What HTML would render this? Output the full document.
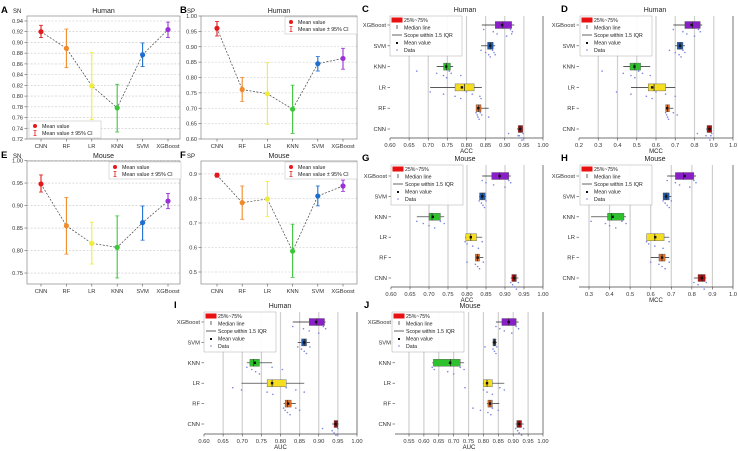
<!DOCTYPE html>
<html><head><meta charset="utf-8"><style>
body{margin:0;background:#fff}
svg{display:block;font-family:"Liberation Sans",Arial,sans-serif}
</style></head><body>
<svg id="fig" width="738" height="451" viewBox="0 0 738 451" xmlns="http://www.w3.org/2000/svg"></svg>
<script>
// ===== data =====
const models = ["CNN","RF","LR","KNN","SVM","XGBoost"];
const colors = ["#e31a1c","#f08a2a","#f0ec3a","#3cc63c","#1c6ed0","#9a30d6"];
const boxColors = ["#b01010","#e0702a","#f5dd20","#2ec12e","#1f5aa8","#8a1fc9"];
// line panels: mean, low CI, high CI (order = models)
const snHumanMean=[0.920,0.889,0.819,0.778,0.877,0.924];
const snHumanLo=[0.909,0.853,0.756,0.733,0.855,0.909];
const snHumanHi=[0.932,0.925,0.881,0.822,0.899,0.938];
const spHumanMean=[0.960,0.761,0.747,0.697,0.845,0.862];
const spHumanLo=[0.935,0.722,0.648,0.618,0.821,0.827];
const spHumanHi=[0.982,0.800,0.848,0.775,0.868,0.895];
const snMouseMean=[0.948,0.855,0.816,0.807,0.862,0.910];
const snMouseLo=[0.930,0.792,0.770,0.739,0.823,0.893];
const snMouseHi=[0.968,0.918,0.863,0.877,0.899,0.927];
const spMouseMean=[0.895,0.783,0.798,0.585,0.810,0.851];
const spMouseLo=[0.887,0.715,0.727,0.478,0.770,0.829];
const spMouseHi=[0.903,0.851,0.869,0.695,0.851,0.875];
// box panels (order = models): q1, median, q3, whisker lo, whisker hi, mean
const accHumanQ1=[0.935,0.825,0.770,0.740,0.855,0.875];
const accHumanMed=[0.940,0.832,0.795,0.748,0.862,0.895];
const accHumanQ3=[0.947,0.838,0.820,0.758,0.870,0.918];
const accHumanWLo=[0.932,0.825,0.705,0.722,0.838,0.840];
const accHumanWHi=[0.948,0.858,0.840,0.765,0.875,0.925];
const accHumanMean=[0.940,0.831,0.788,0.747,0.862,0.893];
const accHumanDots=[[0.910,0.935,0.940,0.945,0.948,0.938,0.944],[0.825,0.828,0.830,0.833,0.836,0.840,0.858],[0.705,0.740,0.770,0.785,0.800,0.815,0.835,0.838],[0.670,0.722,0.740,0.748,0.755,0.760,0.785],[0.838,0.850,0.858,0.862,0.868,0.872,0.875],[0.845,0.870,0.880,0.905,0.915,0.920,0.918]];
const mccHumanQ1=[0.865,0.650,0.560,0.465,0.710,0.750];
const mccHumanMed=[0.878,0.660,0.590,0.490,0.725,0.790];
const mccHumanQ3=[0.890,0.670,0.650,0.520,0.740,0.830];
const mccHumanWLo=[0.860,0.650,0.470,0.430,0.700,0.690];
const mccHumanWHi=[0.890,0.690,0.700,0.570,0.750,0.840];
const mccHumanMean=[0.878,0.658,0.580,0.488,0.725,0.785];
const mccHumanDots=[[0.815,0.860,0.870,0.880,0.890,0.885],[0.650,0.655,0.660,0.665,0.690,0.710],[0.395,0.470,0.550,0.580,0.600,0.650,0.700],[0.320,0.430,0.470,0.490,0.510,0.530,0.570],[0.670,0.700,0.720,0.730,0.740,0.750],[0.690,0.740,0.760,0.800,0.820,0.830]];
const accMouseQ1=[0.918,0.822,0.797,0.700,0.833,0.865];
const accMouseMed=[0.924,0.828,0.810,0.708,0.840,0.885];
const accMouseQ3=[0.930,0.833,0.825,0.730,0.848,0.910];
const accMouseWLo=[0.915,0.822,0.795,0.668,0.832,0.840];
const accMouseWHi=[0.935,0.843,0.840,0.740,0.850,0.915];
const accMouseMean=[0.924,0.828,0.810,0.710,0.840,0.886];
const accMouseDots=[[0.915,0.920,0.925,0.930,0.935],[0.800,0.822,0.828,0.833,0.843],[0.795,0.800,0.815,0.830,0.840],[0.668,0.685,0.700,0.715,0.730,0.740],[0.832,0.838,0.842,0.846,0.850],[0.840,0.850,0.870,0.900,0.910,0.915]];
const mccMouseQ1=[0.830,0.640,0.580,0.390,0.660,0.720];
const mccMouseMed=[0.850,0.655,0.620,0.410,0.675,0.760];
const mccMouseQ3=[0.865,0.670,0.665,0.470,0.690,0.810];
const mccMouseWLo=[0.810,0.600,0.580,0.310,0.660,0.680];
const mccMouseWHi=[0.870,0.690,0.690,0.480,0.700,0.820];
const mccMouseMean=[0.848,0.655,0.622,0.415,0.675,0.765];
const mccMouseDots=[[0.810,0.830,0.850,0.860,0.870],[0.600,0.640,0.655,0.670,0.690],[0.580,0.590,0.620,0.660,0.690],[0.310,0.380,0.400,0.430,0.460,0.480],[0.660,0.670,0.680,0.690,0.700],[0.680,0.720,0.740,0.790,0.810,0.820]];
const aucHumanQ1=[0.940,0.812,0.765,0.720,0.855,0.875];
const aucHumanMed=[0.945,0.818,0.778,0.730,0.862,0.895];
const aucHumanQ3=[0.950,0.828,0.815,0.745,0.868,0.915];
const aucHumanWLo=[0.935,0.808,0.698,0.712,0.845,0.832];
const aucHumanWHi=[0.952,0.840,0.862,0.778,0.877,0.918];
const aucHumanMean=[0.944,0.820,0.778,0.733,0.862,0.893];
const aucHumanDots=[[0.910,0.935,0.940,0.945,0.950],[0.808,0.812,0.818,0.825,0.840,0.850],[0.675,0.698,0.765,0.780,0.815,0.840,0.862],[0.712,0.725,0.735,0.745,0.778,0.805],[0.845,0.855,0.862,0.868,0.877],[0.832,0.860,0.875,0.900,0.912,0.918]];
const aucMouseQ1=[0.912,0.815,0.800,0.632,0.832,0.862];
const aucMouseMed=[0.920,0.822,0.812,0.690,0.837,0.885];
const aucMouseQ3=[0.928,0.830,0.830,0.722,0.842,0.910];
const aucMouseWLo=[0.908,0.812,0.798,0.628,0.830,0.842];
const aucMouseWHi=[0.935,0.853,0.870,0.735,0.845,0.918];
const aucMouseMean=[0.920,0.822,0.812,0.688,0.837,0.885];
const aucMouseDots=[[0.908,0.915,0.920,0.928,0.935],[0.765,0.790,0.815,0.825,0.830,0.850],[0.738,0.800,0.812,0.830,0.855,0.870],[0.628,0.635,0.680,0.700,0.722,0.735],[0.805,0.832,0.837,0.842,0.845],[0.842,0.855,0.870,0.895,0.910,0.918]];

// ===== helpers =====
const NS="http://www.w3.org/2000/svg";
const svg=document.getElementById('fig');
function el(tag,attrs,parent,text){const e=document.createElementNS(NS,tag);for(const k in attrs)e.setAttribute(k,attrs[k]);if(text!==undefined)e.textContent=text;(parent||svg).appendChild(e);return e;}
function fmt(v,d){return v.toFixed(d);}

function linePanel(cfg){
  const g=el('g',{});
  
  
  const {x0,x1,y0,y1,ymin,ymax}=cfg;
  const Y=v=>y1-(v-ymin)/(ymax-ymin)*(y1-y0);
  const X=i=>cfg.cx0+i*cfg.cstep;
  // gridlines + ticks
  for(let t=cfg.t0;t<=cfg.t1+1e-9;t+=cfg.ts){
    const y=Y(t);
    const gl=el('line',{x1:x0,x2:x1,y1:y,y2:y,stroke:'#c8c8c8','stroke-width':0.6,'stroke-dasharray':'2,1.5'},g);
    
    el('line',{x1:x0-2.5,x2:x0,y1:y,y2:y,stroke:'#555','stroke-width':0.6},g);
    const tl=el('text',{x:x0-4,y:y+2,'font-size':5.6,'text-anchor':'end',fill:'#333'},g,fmt(t,cfg.dec));
    
  }
  const fr=el('rect',{x:x0,y:y0,width:x1-x0,height:y1-y0,fill:'none',stroke:'#888','stroke-width':0.7},g);
  
  models.forEach((m,i)=>{
    el('line',{x1:X(i),x2:X(i),y1:y1,y2:y1+2.5,stroke:'#555','stroke-width':0.6},g);
    const t=el('text',{x:X(i),y:y1+9,'font-size':5.8,'text-anchor':'middle',fill:'#333'},g,m);
    
  });
  // dashed connector
  const pts=cfg.mean.map((v,i)=>X(i)+','+Y(v)).join(' ');
  const pl=el('polyline',{points:pts,fill:'none',stroke:'#444','stroke-width':0.7,'stroke-dasharray':'2,1.5'},g);
  
  cfg.mean.forEach((v,i)=>{
    const c=colors[i],x=X(i);
    const eb=el('g',{},g);
    
    el('line',{x1:x,x2:x,y1:Y(cfg.lo[i]),y2:Y(cfg.hi[i]),stroke:c,'stroke-width':1.1},eb);
    el('line',{x1:x-2,x2:x+2,y1:Y(cfg.lo[i]),y2:Y(cfg.lo[i]),stroke:c,'stroke-width':0.8},eb);
    el('line',{x1:x-2,x2:x+2,y1:Y(cfg.hi[i]),y2:Y(cfg.hi[i]),stroke:c,'stroke-width':0.8},eb);
    const p=el('circle',{cx:x,cy:Y(v),r:2.6,fill:c},g);
    
  });
  // title, axis label, letter
  const ti=el('text',{x:(x0+x1)/2,y:y0-3,'font-size':7,'text-anchor':'middle',fill:'#222'},g,cfg.title);
  
  const yl=el('text',{x:x0-14,y:y0-3,'font-size':6,fill:'#222'},g,cfg.ylab);
  
  const lt=el('text',{x:cfg.lx,y:y0-3,'font-size':9.5,'font-weight':'bold',fill:'#000'},g,cfg.letter);
  
  // legend
  const L=el('g',{},g);
  
  const lx=cfg.legX,ly=cfg.legY;
  el('rect',{x:lx,y:ly,width:72,height:17,fill:'#fff',stroke:'#bbb','stroke-width':0.5},L);
  el('circle',{cx:lx+6,cy:ly+5,r:2,fill:'#e31a1c'},L);
  el('text',{x:lx+13,y:ly+7,'font-size':5.3,fill:'#222'},L,'Mean value');
  el('line',{x1:lx+6,x2:lx+6,y1:ly+9.5,y2:ly+14.5,stroke:'#e31a1c','stroke-width':0.8},L);
  el('line',{x1:lx+4.5,x2:lx+7.5,y1:ly+9.5,y2:ly+9.5,stroke:'#e31a1c','stroke-width':0.7},L);
  el('line',{x1:lx+4.5,x2:lx+7.5,y1:ly+14.5,y2:ly+14.5,stroke:'#e31a1c','stroke-width':0.7},L);
  el('text',{x:lx+13,y:ly+14,'font-size':5.3,fill:'#222'},L,'Mean value ± 95% CI');
}

function boxPanel(cfg){
  const g=el('g',{});
  
  
  const X=v=>cfg.px0+(v-cfg.v0)/(cfg.v1-cfg.v0)*(cfg.px1-cfg.px0);
  const order=[5,4,3,1,2,0]; // placeholder replaced below
  const rows=["XGBoost","SVM","KNN","LR","RF","CNN"];
  const Yr=r=>cfg.ry0+r*cfg.rstep;
  // gridlines
  for(let t=cfg.t0;t<=cfg.t1+1e-9;t+=cfg.ts){
    const x=X(t);const last=Math.abs(t-cfg.t1)<1e-9;
    if(Math.abs(t-cfg.t0)>1e-9||cfg.gridFirst){
      const gl=el('line',{x1:x,x2:x,y1:cfg.top,y2:cfg.bot,stroke:last?'#777':'#cfcfcf','stroke-width':last?1:1.2},g);
      
    }
    el('line',{x1:x,x2:x,y1:cfg.bot,y2:cfg.bot+2.5,stroke:'#444','stroke-width':0.6},g);
    const tl=el('text',{x:x,y:cfg.bot+9,'font-size':5.8,'text-anchor':'middle',fill:'#333'},g,fmt(t,cfg.dec));
    
  }
  el('line',{x1:cfg.axL,x2:cfg.px1,y1:cfg.bot,y2:cfg.bot,stroke:'#444','stroke-width':0.7},g);
  const xl=el('text',{x:(cfg.axL+cfg.px1)/2,y:cfg.bot+15,'font-size':6,'text-anchor':'middle',fill:'#222'},g,cfg.xlab);
  
  const ti=el('text',{x:cfg.titleX,y:cfg.top-4,'font-size':7,'text-anchor':'middle',fill:'#222'},g,cfg.title);
  
  const lt=el('text',{x:cfg.lx,y:cfg.top-4,'font-size':9.5,'font-weight':'bold',fill:'#000'},g,cfg.letter);
  
  rows.forEach((m,r)=>{
    const i=models.indexOf(m),y=Yr(r),c=boxColors[i];
    el('line',{x1:cfg.axL-2.5,x2:cfg.axL,y1:y,y2:y,stroke:'#444','stroke-width':0.6},g);
    const yt=el('text',{x:cfg.axL-4,y:y+2,'font-size':5.8,'text-anchor':'end',fill:'#333'},g,m);
    
    const bg=el('g',{},g);
    
    el('line',{x1:X(cfg.wlo[i]),x2:X(cfg.whi[i]),y1:y,y2:y,stroke:'#222','stroke-width':0.7},bg);
    el('rect',{x:X(cfg.q1[i]),y:y-3.5,width:Math.max(1,X(cfg.q3[i])-X(cfg.q1[i])),height:7,fill:c,stroke:'#555','stroke-width':0.4},bg);
    el('line',{x1:X(cfg.med[i]),x2:X(cfg.med[i]),y1:y-3.5,y2:y+3.5,stroke:'#222','stroke-width':0.7},bg);
    el('rect',{x:X(cfg.mean[i])-1.2,y:y-1.2,width:2.4,height:2.4,fill:'#111'},bg);
    cfg.dots[i].forEach((v,k)=>{
      const d=el('circle',{cx:X(v),cy:y+4.5+(k%4)*2.2,r:0.8,fill:'#7a86e0'},bg);
      
    });
  });
  // legend
  const L=el('g',{},g);
  
  const lx=cfg.legX,ly=cfg.top;
  el('rect',{x:lx,y:ly,width:72,height:40,fill:'#fff','fill-opacity':0.9,stroke:'#aaa','stroke-width':0.5},L);
  el('rect',{x:lx+1.5,y:ly+1.5,width:11,height:5,fill:'#e81010'},L);
  el('text',{x:lx+14,y:ly+6,'font-size':5.2,fill:'#222'},L,'25%~75%');
  el('line',{x1:lx+7,x2:lx+7,y1:ly+9,y2:ly+13,stroke:'#222','stroke-width':0.7},L);
  el('text',{x:lx+14,y:ly+13.5,'font-size':5.2,fill:'#222'},L,'Median line');
  el('line',{x1:lx+2,x2:lx+12,y1:ly+19,y2:ly+19,stroke:'#222','stroke-width':0.7},L);
  el('text',{x:lx+14,y:ly+21,'font-size':5.2,fill:'#222'},L,'Scope within 1.5 IQR');
  el('rect',{x:lx+6,y:ly+26,width:2,height:2,fill:'#111'},L);
  el('text',{x:lx+14,y:ly+28.5,'font-size':5.2,fill:'#222'},L,'Mean value');
  el('circle',{cx:lx+7,cy:ly+34,r:0.8,fill:'#7a86e0'},L);
  el('text',{x:lx+14,y:ly+36,'font-size':5.2,fill:'#222'},L,'Data');
}

// ===== draw =====
linePanel({name:'panel-a-sn-human',letter:'A',lx:1,title:'Human',ylab:'SN',x0:27,x1:180,y0:16,y1:139,ymin:0.72,ymax:0.9493,t0:0.72,t1:0.94,ts:0.02,dec:2,cx0:41,cstep:25.4,mean:snHumanMean,lo:snHumanLo,hi:snHumanHi,legX:29,legY:121});
linePanel({name:'panel-b-sp-human',letter:'B',lx:180,title:'Human',ylab:'SP',x0:201,x1:357,y0:16,y1:139,ymin:0.60,ymax:1.00,t0:0.60,t1:1.00,ts:0.05,dec:2,cx0:217,cstep:25.2,mean:spHumanMean,lo:spHumanLo,hi:spHumanHi,legX:285,legY:17});
linePanel({name:'panel-e-sn-mouse',letter:'E',lx:1,title:'Mouse',ylab:'SN',x0:27,x1:180,y0:161,y1:284,ymin:0.7256,ymax:0.999,t0:0.75,t1:1.00,ts:0.05,dec:2,cx0:41,cstep:25.4,mean:snMouseMean,lo:snMouseLo,hi:snMouseHi,legX:109,legY:162});
linePanel({name:'panel-f-sp-mouse',letter:'F',lx:180,title:'Mouse',ylab:'SP',x0:201,x1:357,y0:161,y1:284,ymin:0.451,ymax:0.953,t0:0.5,t1:0.9,ts:0.1,dec:1,cx0:217,cstep:25.2,mean:spMouseMean,lo:spMouseLo,hi:spMouseHi,legX:285,legY:162});

boxPanel({name:'panel-c-acc-human',letter:'C',lx:362,title:'Human',titleX:465,xlab:'ACC',top:16,bot:138,axL:390,px0:390,px1:543,v0:0.60,v1:1.00,t0:0.60,t1:1.00,ts:0.05,dec:2,ry0:25,rstep:20.8,legX:390,q1:accHumanQ1,med:accHumanMed,q3:accHumanQ3,wlo:accHumanWLo,whi:accHumanWHi,mean:accHumanMean,dots:accHumanDots});
boxPanel({name:'panel-d-mcc-human',letter:'D',lx:561,title:'Human',titleX:655,xlab:'MCC',top:16,bot:138,axL:579,px0:579,px1:733,v0:0.2,v1:1.0,t0:0.2,t1:1.0,ts:0.1,dec:1,ry0:25,rstep:20.8,legX:580,q1:mccHumanQ1,med:mccHumanMed,q3:mccHumanQ3,wlo:mccHumanWLo,whi:mccHumanWHi,mean:mccHumanMean,dots:mccHumanDots});
boxPanel({name:'panel-g-acc-mouse',letter:'G',lx:362,title:'Mouse',titleX:465,xlab:'ACC',top:165,bot:287,axL:391,px0:391,px1:543,v0:0.60,v1:1.00,t0:0.60,t1:1.00,ts:0.05,dec:2,ry0:176,rstep:20.4,legX:391,q1:accMouseQ1,med:accMouseMed,q3:accMouseQ3,wlo:accMouseWLo,whi:accMouseWHi,mean:accMouseMean,dots:accMouseDots});
boxPanel({name:'panel-h-mcc-mouse',letter:'H',lx:561,title:'Mouse',titleX:655,xlab:'MCC',top:165,bot:287,axL:579,px0:589,px1:733,v0:0.3,v1:1.0,t0:0.3,t1:1.0,ts:0.1,dec:1,gridFirst:true,ry0:176,rstep:20.4,legX:580,q1:mccMouseQ1,med:mccMouseMed,q3:mccMouseQ3,wlo:mccMouseWLo,whi:mccMouseWHi,mean:mccMouseMean,dots:mccMouseDots});
boxPanel({name:'panel-i-auc-human',letter:'I',lx:174,title:'Human',titleX:280,xlab:'AUC',top:312,bot:434,axL:204,px0:204,px1:357,v0:0.60,v1:1.00,t0:0.60,t1:1.00,ts:0.05,dec:2,ry0:322,rstep:20.4,legX:204,q1:aucHumanQ1,med:aucHumanMed,q3:aucHumanQ3,wlo:aucHumanWLo,whi:aucHumanWHi,mean:aucHumanMean,dots:aucHumanDots});
boxPanel({name:'panel-j-auc-mouse',letter:'J',lx:364,title:'Mouse',titleX:470,xlab:'AUC',top:312,bot:434,axL:395,px0:409,px1:543,v0:0.55,v1:1.00,t0:0.55,t1:1.00,ts:0.05,dec:2,gridFirst:true,ry0:322,rstep:20.4,legX:392,q1:aucMouseQ1,med:aucMouseMed,q3:aucMouseQ3,wlo:aucMouseWLo,whi:aucMouseWHi,mean:aucMouseMean,dots:aucMouseDots});
</script>
</body></html>
